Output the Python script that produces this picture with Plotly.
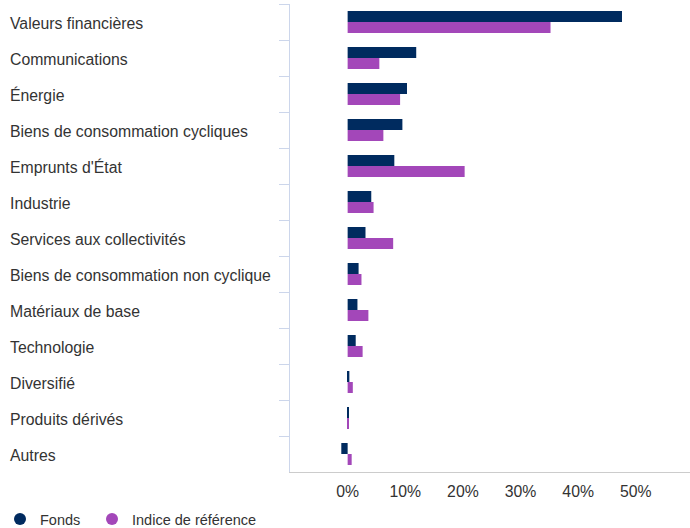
import plotly.graph_objects as go

categories = [
    "Valeurs financières", "Communications", "Énergie",
    "Biens de consommation cycliques", "Emprunts d'État", "Industrie",
    "Services aux collectivités", "Biens de consommation non cyclique",
    "Matériaux de base", "Technologie", "Diversifié", "Produits dérivés", "Autres",
]
fonds = [47.6, 11.9, 10.3, 9.5, 8.1, 4.1, 3.1, 1.9, 1.7, 1.4, 0.3, 0.2, -1.1]
indice = [35.2, 5.5, 9.1, 6.2, 20.3, 4.5, 7.9, 2.4, 3.6, 2.6, 0.9, 0.2, 0.7]
series_names = ["Fonds", "Indice de référence"]
colors = ["#002b5f", "#a347b9"]
xticks = [0, 10, 20, 30, 40, 50]
xtick_labels = ["0%", "10%", "20%", "30%", "40%", "50%"]

FONT = "Liberation Sans, Arial, sans-serif"
FS = 15.8
LFS = 14.5
W, H = 690, 528
ML, MR, MT, MB = 290, 0, 4, 56
PW = W - ML - MR
PH = H - MT - MB

fig = go.Figure()
for name, vals, col in zip(series_names, [fonds, indice], colors):
    fig.add_trace(go.Bar(
        y=categories, x=vals, orientation="h", name=name,
        marker=dict(color=col, line=dict(width=0)), showlegend=False,
        hoverinfo="skip",
    ))
legend_ids = ["legend", "legend2"]
for name, col, lid in zip(series_names, colors, legend_ids):
    fig.add_trace(go.Scatter(
        x=[None], y=[None], mode="markers", name=name, legend=lid,
        marker=dict(color=col, size=15, symbol="circle"),
    ))

annotations = [
    dict(text=c, x=(8 - ML) / PW, xref="paper", y=c, yref="y", yshift=-1,
         xanchor="left", yanchor="middle", showarrow=False,
         font=dict(family=FONT, size=FS, color="#333333"))
    for c in categories
]

leg_common = dict(orientation="h", xanchor="left",
                  yref="container", y=(H - 519) / H, yanchor="middle",
                  font=dict(family=FONT, size=LFS, color="#333333"),
                  itemsizing="constant", bgcolor="rgba(0,0,0,0)")

fig.update_layout(
    width=W, height=H,
    margin=dict(l=ML, r=MR, t=MT, b=MB, autoexpand=False),
    paper_bgcolor="white", plot_bgcolor="white",
    barmode="group", bargap=0.39, bargroupgap=0,
    font=dict(family=FONT, size=FS, color="#333333"),
    annotations=annotations,
    showlegend=True,
    legend=dict(xref="container", x=0 / W, **leg_common),
    legend2=dict(xref="container", x=92 / W, **leg_common),
    xaxis=dict(range=[-10, 59.4], tickvals=xticks, ticktext=xtick_labels,
               showgrid=False, zeroline=False, showline=True,
               linecolor="#cccccc", linewidth=1,
               ticks="outside", ticklen=5, tickcolor="rgba(0,0,0,0)",
               tickfont=dict(family=FONT, size=FS, color="#333333"),
               fixedrange=True),
    yaxis=dict(type="category", autorange="reversed", showticklabels=False,
               ticks="outside", tickson="boundaries", ticklen=10,
               tickcolor="#ccd6eb", showline=True, linecolor="#ccd6eb",
               linewidth=1, showgrid=False, zeroline=False, fixedrange=True),
)

fig.write_html("out.html", config={"displayModeBar": False},
               post_script="document.body.style.margin='0';")
